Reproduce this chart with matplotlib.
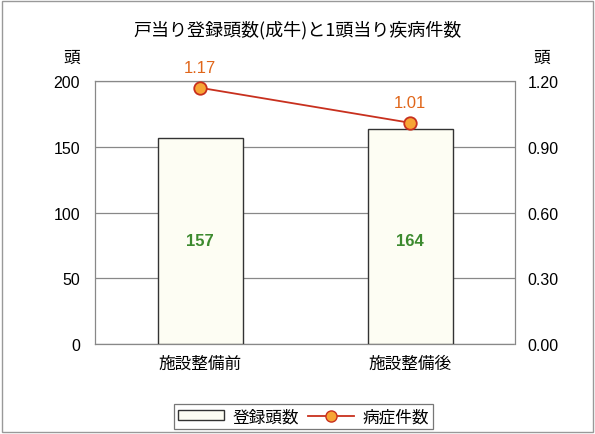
import matplotlib.pyplot as plt
from matplotlib.lines import Line2D
from matplotlib.patches import Patch, Rectangle

plt.rcParams['font.family'] = ['Noto Sans CJK JP', 'DejaVu Sans']
num_font = ['Liberation Sans', 'DejaVu Sans']

categories = ["施設整備前", "施設整備後"]
head_counts = [157, 164]
disease_cases = [1.17, 1.01]
left_ticks = [0, 50, 100, 150, 200]
right_ticks = [0.00, 0.30, 0.60, 0.90, 1.20]

bar_edge = "#333333"
bar_fill = "#fdfdf3"
line_color = "#c8301e"
marker_color = "#f7a535"
label_orange = "#e0661a"
label_green = "#3c8a2e"

fig = plt.figure(figsize=(5.95, 4.35), dpi=100)
fig.patches.append(Rectangle((0.004, 0.004), 0.992, 0.992, transform=fig.transFigure,
                             fill=False, edgecolor="#999999", linewidth=1.0))

ax = fig.add_axes([0.16, 0.207, 0.706, 0.604])
x = range(len(categories))

ax.bar(x, head_counts, width=0.405, color=bar_fill, edgecolor=bar_edge, linewidth=1.0, zorder=3)
# value labels sit at one common height inside the bars
label_y = min(head_counts) / 2
for xi, v in zip(x, head_counts):
    ax.text(xi, label_y, str(v), ha="center", va="center", color=label_green,
            fontsize=12, fontweight="bold", family=num_font, zorder=5)

ax.set_xlim(-0.5, 1.5)
ax.set_ylim(0, 200)
ax.set_yticks(left_ticks)
ax.set_yticklabels([str(t) for t in left_ticks], fontsize=11.5, family=num_font)
ax.set_xticks(list(x))
ax.set_xticklabels(categories, fontsize=12)
ax.tick_params(axis="x", length=0, pad=8)
ax.tick_params(axis="y", length=0, pad=11)
ax.yaxis.grid(True, color="#888888", linewidth=0.9)
ax.set_axisbelow(True)
for s in ax.spines.values():
    s.set_color("#888888")
    s.set_linestyle((0, (2, 1)))
    s.set_linewidth(0.9)

ax2 = ax.twinx()
ax2.set_ylim(0, 1.2)
ax2.set_yticks(right_ticks)
ax2.set_yticklabels([f"{t:.2f}" for t in right_ticks], fontsize=11.5, family=num_font)
ax2.tick_params(axis="y", length=0, pad=9)
for s in ax2.spines.values():
    s.set_visible(False)
ax2.plot(list(x), disease_cases, color=line_color, linewidth=1.3, marker="o",
         markersize=9, markerfacecolor=marker_color, markeredgecolor=line_color,
         markeredgewidth=1.3, zorder=4, clip_on=False)
for xi, v in zip(x, disease_cases):
    ax2.annotate(f"{v:.2f}", (xi, v), xytext=(0, 9), textcoords="offset points",
                 ha="center", va="bottom", color=label_orange, fontsize=12,
                 family=num_font)

fig.text(0.5, 0.931, "戸当り登録頭数(成牛)と1頭当り疾病件数", ha="center", va="center", fontsize=13)
fig.text(0.121, 0.866, "頭", ha="center", va="center", fontsize=12)
fig.text(0.911, 0.866, "頭", ha="center", va="center", fontsize=12)

handles = [Patch(facecolor=bar_fill, edgecolor=bar_edge, linewidth=1.0),
           Line2D([], [], color=line_color, linewidth=1.3, marker="o", markersize=8,
                  markerfacecolor=marker_color, markeredgecolor=line_color)]
leg = fig.legend(handles, ["登録頭数", "病症件数"], loc="center", bbox_to_anchor=(0.51, 0.04),
                 ncol=2, fontsize=12, frameon=True, fancybox=False, edgecolor="#555555",
                 handlelength=2.8, handleheight=0.55, handletextpad=0.5, columnspacing=0.5,
                 borderpad=0.25)
leg.get_frame().set_linewidth(0.9)

fig.savefig("out.png", dpi=100)
